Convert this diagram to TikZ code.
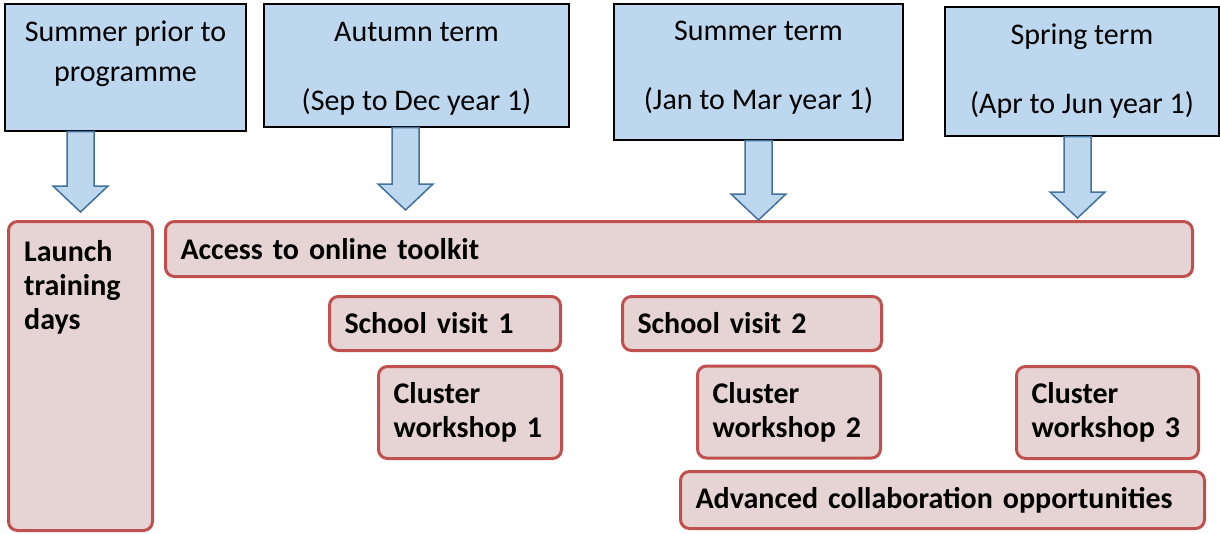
\documentclass[tikz,border=0pt]{standalone}
\usepackage{fontspec}
\setmainfont{Carlito}
\usetikzlibrary{calc}
\definecolor{TermClr}{RGB}{189,215,238}
\definecolor{ArrowClr}{RGB}{65,113,156}
\definecolor{ActClr}{RGB}{230,212,213}
\definecolor{ActLineClr}{RGB}{192,80,77}

\tikzset{
  termbox/.style={draw=black,line width=1.2pt,fill=TermClr,inner sep=0pt},
  termtext/.style={align=center,font=\fontsize{30}{40}\selectfont},
  actbox/.style={draw=ActLineClr,line width=3pt,fill=ActClr,rounded corners=9pt,
    align=left,inner xsep=15pt,font=\bfseries\fontsize{30}{34}\selectfont},
  acttext/.style={align=left,inner sep=0pt,anchor=north west,
    font=\bfseries\fontsize{30}{34}\selectfont},
  termarrow/.style={draw=ArrowClr,line width=1.5pt,fill=TermClr,line join=miter}
}

\newcommand{\TermArrow}[2]{%
  \draw[termarrow] let \p1=(#1), \p2=(#2) in
    (\x1-13.5pt,\y1) -- (\x1-13.5pt,\y2+26pt) -- (\x1-27.5pt,\y2+26pt) -- (\x1,\y2)
    -- (\x1+27.5pt,\y2+26pt) -- (\x1+13.5pt,\y2+26pt) -- (\x1+13.5pt,\y1) -- cycle;}

\begin{document}
\begin{tikzpicture}[x=1pt,y=-1pt]
\useasboundingbox (0,0) rectangle (1220,533);

\node[termbox,minimum width=241pt,minimum height=127pt] (sumprior) at (125.5,67.5) {};
\node[termbox,minimum width=305pt,minimum height=123pt] (autumn) at (416.5,65.5) {};
\node[termbox,minimum width=289pt,minimum height=136pt] (summer) at (758.5,72) {};
\node[termbox,minimum width=274pt,minimum height=129pt] (spring) at (1082,71.5) {};

\node[termtext] at (125.5,54) {Summer prior to\\programme};
\node[termtext] at (416.5,68.5) {Autumn term\\[29pt](Sep to Dec year 1)};
\node[termtext] at (758.5,68) {Summer term\\[29pt](Jan to Mar year 1)};
\node[termtext] at (1082,71.5) {Spring term\\[29pt](Apr to Jun year 1)};

\node[actbox,text width=114pt,minimum height=309pt] (launch) at (80.5,376) {};
\node[acttext] at (24,240) {Launch\\training\\days};
\node[actbox,text width=997pt,minimum height=55pt] (access) at (679,249) {Access to online toolkit};
\node[actbox,text width=201pt,minimum height=54pt] (visit1) at (445,323.5) {School visit 1};
\node[actbox,text width=229pt,minimum height=54pt] (visit2) at (752,323.5) {School visit 2};
\node[actbox,text width=153pt,minimum height=92pt] (clust1) at (470,412.5) {Cluster\\workshop 1};
\node[actbox,text width=153pt,minimum height=92pt] (clust2) at (789,412) {Cluster\\workshop 2};
\node[actbox,text width=152pt,minimum height=92pt] (clust3) at (1107.5,412.5) {Cluster\\workshop 3};
\node[actbox,text width=494pt,minimum height=57pt] (advanced) at (942.5,500) {Advanced collaboration opportunities};

\TermArrow{launch.north |- sumprior.south}{[yshift=8pt]launch.north}
\TermArrow{[xshift=-11pt]autumn.south}{[yshift=10pt]access.north}
\TermArrow{summer.south}{access.north}
\TermArrow{[xshift=-4.5pt]spring.south}{[yshift=2pt]access.north}

\end{tikzpicture}
\end{document}
